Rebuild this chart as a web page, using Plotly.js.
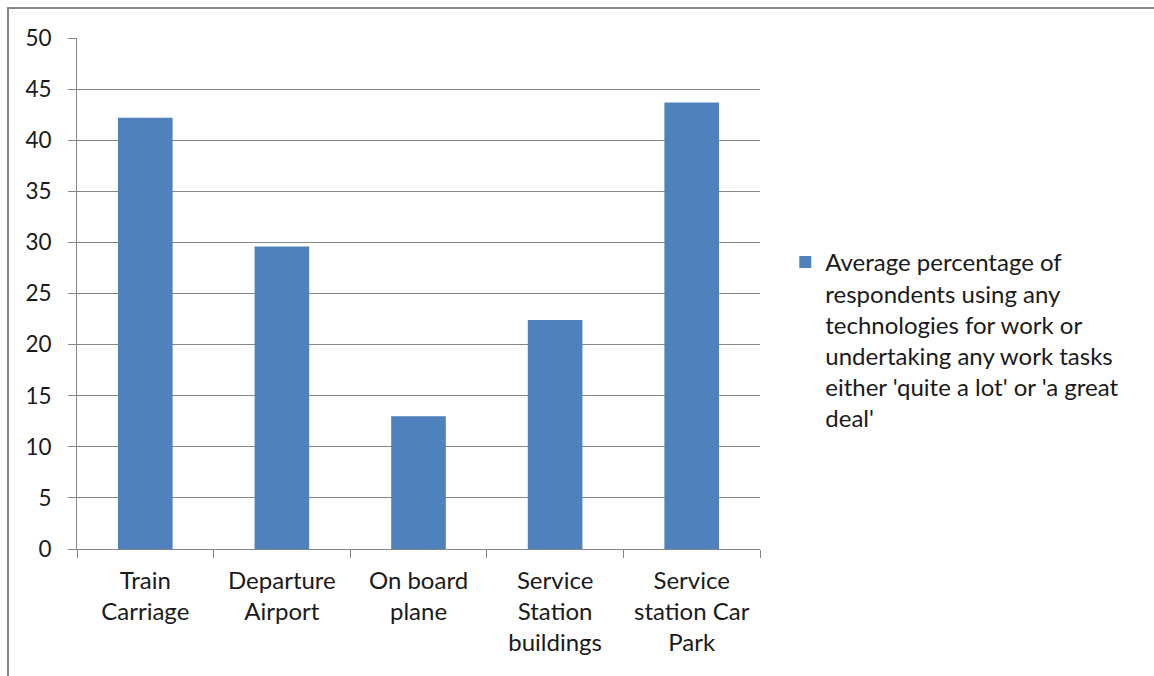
<!DOCTYPE html>
<html>
<head>
<meta charset="utf-8">
<script src="https://cdn.plot.ly/plotly-3.0.1.min.js"></script>
<style>html,body{margin:0;padding:0;background:#fff;}#chart{width:1154px;height:676px;}</style>
</head>
<body>
<div id="chart"></div>
<script>
var categories = ["Train<br>Carriage", "Departure<br>Airport", "On board<br>plane", "Service<br>Station<br>buildings", "Service<br>station Car<br>Park"];
var values = [42.2, 29.6, 13.0, 22.4, 43.7];
var seriesName = "Average percentage of<br>respondents using any<br>technologies for work or<br>undertaking any work tasks<br>either 'quite a lot' or 'a great<br>deal'";
var yTicks = [0, 5, 10, 15, 20, 25, 30, 35, 40, 45, 50];

var font = {family: "Lato, 'Open Sans', sans-serif", size: 24, color: "#1a1a1a"};
var yfont = {family: "Lato, 'Open Sans', sans-serif", size: 22.5, color: "#1a1a1a"};
var gray = "#868686";

Plotly.newPlot("chart", [{
  type: "bar",
  x: categories,
  y: values,
  name: seriesName,
  marker: {color: "#4F81BD"},
  width: 0.4,
  showlegend: true
}], {
  width: 1154, height: 676,
  margin: {l: 77, r: 394, t: 38, b: 127},
  font: font,
  paper_bgcolor: "#fff",
  plot_bgcolor: "#fff",
  xaxis: {
    type: "category",
    tickson: "boundaries",
    ticks: "outside", ticklen: 8, tickcolor: gray, tickwidth: 1,
    showline: true, linecolor: gray, linewidth: 1,
    showgrid: false,
    tickfont: font,
    ticklabelstandoff: 10,
    range: [-0.5, 4.5]
  },
  yaxis: {
    range: [0, 50],
    tickvals: yTicks,
    ticks: "outside", ticklen: 8, tickcolor: gray, tickwidth: 1,
    showline: true, linecolor: gray, linewidth: 1,
    showgrid: true, gridcolor: gray, gridwidth: 1,
    zeroline: false,
    tickfont: yfont,
    ticklabelstandoff: 12
  },
  legend: {
    x: 1.037, xanchor: "left",
    y: 0.605, yanchor: "top",
    valign: "top",
    font: font,
    itemwidth: 30,
    bgcolor: "rgba(0,0,0,0)"
  },
  shapes: [{
    type: "rect", xref: "paper", yref: "paper",
    x0: -69/683, x1: 1.7, y0: -0.4, y1: 1 + 30/511,
    line: {color: gray, width: 2}, layer: "below"
  }]
}, {displayModeBar: false});
</script>
</body>
</html>
